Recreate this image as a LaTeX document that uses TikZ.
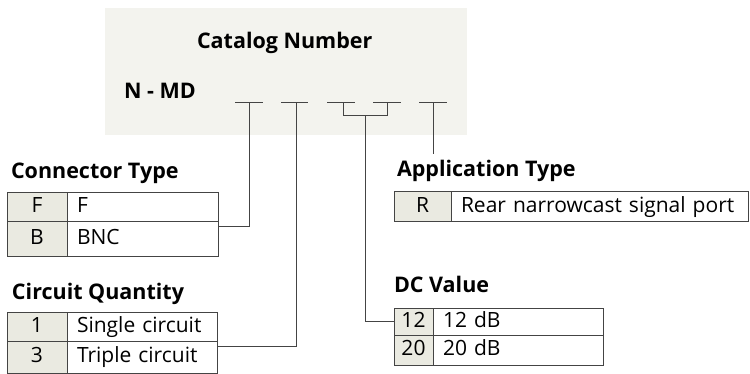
\documentclass[tikz,border=0pt]{standalone}
\usepackage{fontspec}
\setmainfont{Open Sans}
\usetikzlibrary{positioning}

\definecolor{panelgray}{RGB}{243,243,238}
\definecolor{keygray}{RGB}{234,234,225}
\definecolor{rulegray}{RGB}{68,68,68}

\begin{document}
\begin{tikzpicture}[x=1pt, y=-1pt, node distance=0pt,
                    every node/.style={inner sep=0pt, outer sep=0pt},
                    heading/.style={anchor=base west, font=\fontsize{21.5}{24}\selectfont\bfseries},
                    keycell/.style={draw=rulegray, line width=1pt, fill=keygray, minimum width=#1,
                                    text height=15pt, text depth=4pt, font=\fontsize{21}{24}\selectfont},
                    valcell/.style={draw=rulegray, line width=1pt, fill=white, text width=#1, align=left,
                                    inner xsep=10pt, text height=15pt, text depth=4pt,
                                    font=\fontsize{21}{24}\selectfont},
                    wire/.style={draw=rulegray, line width=1pt}]
  \useasboundingbox (0,0) rectangle (750,374);

  % Catalog number panel
  \fill[panelgray] (105,8) rectangle (467,135);
  \node[heading] (catalog) at (197,49) {Catalog Number};
  \node[heading] (partno) at (124,99) {N - MD};

  % Connector Type
  \node[heading] (connhead) at (11,179) {Connector Type};
  \node[keycell=60pt, minimum height=29pt, anchor=north west] (ctF) at (7,193) {F};
  \node[valcell=131pt, minimum height=29pt, right=of ctF] (ctFv) {F};
  \node[keycell=60pt, minimum height=35pt, below=of ctF] (ctB) {B};
  \node[valcell=131pt, minimum height=35pt, right=of ctB] (ctBv) {BNC};

  % Circuit Quantity
  \node[heading] (circhead) at (12,299) {Circuit Quantity};
  \node[keycell=60pt, minimum height=29pt, anchor=north west] (cq1) at (7,312) {1};
  \node[valcell=130pt, minimum height=29pt, right=of cq1] (cq1v) {Single circuit};
  \node[keycell=60pt, minimum height=32pt, below=of cq1] (cq3) {3};
  \node[valcell=130pt, minimum height=32pt, right=of cq3] (cq3v) {Triple circuit};

  % Application Type
  \node[heading] (apphead) at (397,177) {Application Type};
  \node[keycell=57pt, minimum height=30pt, anchor=north west] (apR) at (394,192) {R};
  \node[valcell=277pt, minimum height=30pt, right=of apR] (apRv) {Rear narrowcast signal port};

  % DC Value
  \node[heading] (dchead) at (394,293) {DC Value};
  \node[keycell=39pt, minimum height=27pt, anchor=north west] (dc12) at (394,308) {12};
  \node[valcell=150pt, minimum height=27pt, right=of dc12] (dc12v) {12 dB};
  \node[keycell=39pt, minimum height=30pt, below=of dc12] (dc20) {20};
  \node[valcell=150pt, minimum height=30pt, right=of dc20] (dc20v) {20 dB};

  % Taps under the part number
  \coordinate (tapConn) at (249,103);
  \coordinate (tapCirc) at (296,103);
  \coordinate (tapDCa) at (343,103);
  \coordinate (tapDCb) at (387,103);
  \coordinate (tapApp) at (433,103);
  \coordinate (joinDC) at (365,116);
  \coordinate (appEnd) at (433,154);

  \foreach \t/\l/\r in {tapConn/14/14, tapCirc/15/12, tapDCa/16/12, tapDCb/14/14, tapApp/14/14}
    \draw[wire] ([xshift=-\l pt]\t) -- ([xshift=\r pt]\t);

  % Leader lines
  \draw[wire] (tapConn) |- ([yshift=-5pt]ctBv.north east);
  \draw[wire] (tapCirc) |- ([yshift=-5pt]cq3v.north east);
  \draw[wire] (tapDCa) -- (tapDCa |- joinDC) -- (tapDCb |- joinDC) -- (tapDCb);
  \draw[wire] (joinDC) |- (dc12.west);
  \draw[wire] (tapApp) -- (appEnd);

\end{tikzpicture}
\end{document}
